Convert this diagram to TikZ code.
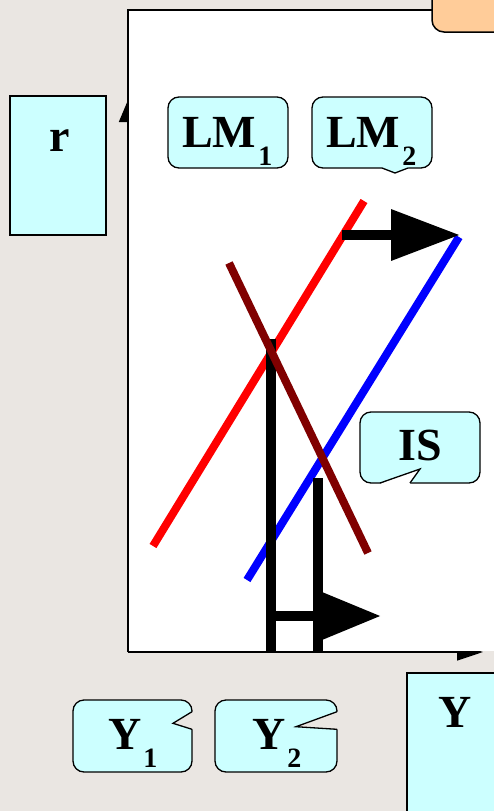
\documentclass[tikz,border=0pt]{standalone}
\usepackage{fontspec}
\setmainfont{Liberation Serif}
\usetikzlibrary{arrows.meta}
\definecolor{slidegray}{HTML}{EAE6E2}
\definecolor{boxcyan}{HTML}{CCFFFF}
\definecolor{boxorange}{HTML}{FFCC99}
\definecolor{isred}{HTML}{800000}
\tikzset{
  callout/.style={draw=black,fill=boxcyan,line width=1.3pt,rounded corners=11pt},
  notch/.style={line width=1.3pt,line join=miter},
  txt/.style={anchor=base west,inner sep=0pt,font=\bfseries\fontsize{46}{46}\selectfont},
  lmcurve/.style={line width=8pt},
  shiftarrow/.style 2 args={line width=10pt,-{Triangle[length=#1,width=#2]}}
}
\newcommand{\lowsub}[1]{\kern2pt\raisebox{-18pt}{\fontsize{28}{28}\selectfont #1}}

\begin{document}
\begin{tikzpicture}[x=1pt,y=-1pt]
	\useasboundingbox (0,0) rectangle (494,811);
	\clip (0,0) rectangle (494,811);
	\fill [slidegray] (0,0) rectangle (494,811);
	% axes, half hidden by the plot area
	\draw [line width=1.7pt,-{Triangle[length=22pt,width=18pt]}] (128,652) -- (128,100);
	\draw [line width=1.7pt,-{Triangle[length=26pt,width=17pt]}] (128,652) -- (483,652);
	\fill [white] (128,651.2) rectangle (520,10);
	\draw [line width=1.7pt] (128,652) -- (128,10) -- (520,10);
	\draw [fill=boxorange,line width=1.5pt,rounded corners=12pt] (432,-20) rectangle (520,32);
	% labels
	\draw [fill=boxcyan,line width=1.2pt] (10,96) rectangle (106,235);
	\node [txt] (r) at (49,151) {r};
	\draw [callout] (168,97) rectangle (288,168);
	\node [txt] (lm1) at (182,147) {LM\lowsub{1}};
	\draw [callout] (312,97) rectangle (432,168);
	\fill [boxcyan] (382,166) -- (408,166) -- (408,168) -- (395,173) -- (382,168) -- cycle;
	\draw [notch] (382,168) -- (395,173) -- (408,168);
	\node [txt] (lm2) at (326,147) {LM\lowsub{2}};
	\draw [callout] (360,412) rectangle (480,483);
	\fill [white] (410,483.8) -- (420,469) -- (380,483.8) -- cycle;
	\draw [notch] (410,483) -- (420,469) -- (380,483);
	\node [txt] (is) at (398,460) {IS};
	% curves
	\draw [lmcurve,red] (153,546) -- (364,201);
	\draw [lmcurve,blue] (247,580) -- (459,237);
	\coordinate (lmtail) at (342,235);
	\coordinate (lmtip) at (460,235);
	\draw [shiftarrow={69pt}{49pt}] (lmtail) -- (lmtip);
	\draw [line width=10pt] (271,339) -- (271,652);
	\draw [line width=10pt] (318,478) -- (318,652);
	\coordinate (ytail) at (271,616);
	\coordinate (ytip) at (381,616);
	\draw [shiftarrow={59pt}{45pt}] (ytail) -- (ytip);
	\draw [lmcurve,isred] (229,263) -- (368,553);
	% output labels
	\draw [callout] (73,700) rectangle (192,772);
	\fill [slidegray] (192.8,711.7) -- (173,723.3) -- (192.8,729.3) -- cycle;
	\draw [notch] (192,711.7) -- (173,723.3) -- (192,729.3);
	\node [txt] (y1) at (108,749) {Y\lowsub{1}};
	\draw [callout] (215,700) rectangle (337,772);
	\fill [slidegray] (337.8,711.7) -- (296,726.7) -- (337.8,729.3) -- cycle;
	\draw [notch] (337,711.7) -- (296,726.7) -- (337,729.3);
	\node [txt] (y2) at (252,749) {Y\lowsub{2}};
	\draw [fill=boxcyan,line width=1.3pt] (407,673) rectangle (520,830);
	\node [txt] (y) at (438,727) {Y};
\end{tikzpicture}
\end{document}
